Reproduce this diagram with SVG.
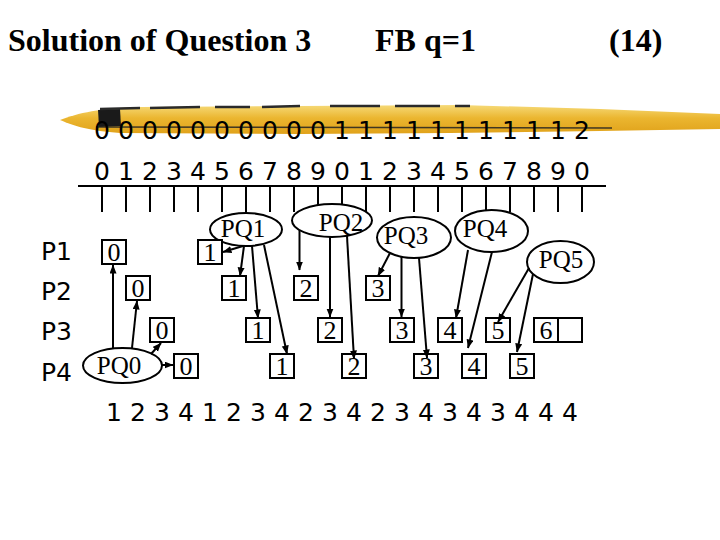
<svg xmlns="http://www.w3.org/2000/svg" width="720" height="540" viewBox="0 0 720 540">
<style>
.title{font-family:"Liberation Serif","Times New Roman",serif;font-weight:bold;font-size:32px;fill:#000}
.mono{font-family:"DejaVu Sans",Verdana,sans-serif;font-size:25px;fill:#000}
.box{fill:#fff;stroke:#000;stroke-width:2}
.bt{font-family:"Liberation Serif","Times New Roman",serif;font-size:26px;fill:#000;text-anchor:middle}
.pq{fill:#fff;stroke:#000;stroke-width:2}
.pt{font-family:"Liberation Serif","Times New Roman",serif;font-size:25px;fill:#000;text-anchor:middle}
.tick{stroke:#000;stroke-width:2}
.conn line{stroke:#000;stroke-width:2;marker-end:url(#ah)}
</style>
<defs>
<marker id="ah" markerUnits="userSpaceOnUse" markerWidth="9" markerHeight="8" refX="8.5" refY="3.5" orient="auto">
<path d="M0,0 L9,3.5 L0,7 z" fill="#000"/>
</marker>
<linearGradient id="brush" x1="0" y1="0" x2="0" y2="1">
<stop offset="0" stop-color="#F6DA78"/>
<stop offset="0.45" stop-color="#EBB630"/>
<stop offset="1" stop-color="#E0A21A"/>
</linearGradient>
</defs>
<rect width="720" height="540" fill="#fff"/>

<!-- title -->
<text class="title" x="8" y="51">Solution of Question 3</text>
<text class="title" x="375" y="51">FB q=1</text>
<text class="title" x="609" y="51">(14)</text>

<!-- decorative brush stroke -->
<g id="brush-stroke">
<path d="M60,120 C78,113 100,108 140,107 L300,106 L460,105 L600,109 L720,114 L720,129 L600,131 L450,133 L300,134 L120,133 C90,131 74,126 60,120 Z" fill="url(#brush)"/>
<path d="M98,110 L120,109 L121,126 L99,127 Z" fill="#1a1a1a"/>
<path d="M100,109 L140,108 M150,108 L200,107 M215,107 L250,107 M262,107 L300,106 M330,106 L380,106 M395,106 L440,106 M455,106 L470,106" stroke="#2a2a2a" stroke-width="2.5" fill="none"/>
<path d="M96,127 L612,128" stroke="#222" stroke-width="1.5" fill="none" opacity="0.85"/>
</g>

<!-- time axis -->
<g id="axis">
<text class="mono" x="94" y="139" textLength="496" lengthAdjust="spacing">0 0 0 0 0 0 0 0 0 0 1 1 1 1 1 1 1 1 1 1 2</text>
<text class="mono" x="94" y="180" textLength="496" lengthAdjust="spacing">0 1 2 3 4 5 6 7 8 9 0 1 2 3 4 5 6 7 8 9 0</text>
<line x1="78" y1="186" x2="606" y2="186" stroke="#000" stroke-width="2"/>
<path class="tick" d="M102,186V212 M126,186V212 M150,186V212 M174,186V212 M198,186V212 M222,186V212 M246,186V212 M270,186V212 M294,186V212 M318,186V212 M342,186V212 M366,186V212 M390,186V212 M414,186V212 M438,186V212 M462,186V212 M486,186V212 M510,186V212 M534,186V212 M558,186V212 M582,186V212"/>
</g>

<!-- process labels -->
<g id="procs">
<text class="mono" x="41" y="260">P1</text>
<text class="mono" x="41" y="300">P2</text>
<text class="mono" x="41" y="340">P3</text>
<text class="mono" x="41" y="381">P4</text>
</g>

<!-- priority queues -->
<g id="PQ0"><ellipse class="pq" cx="122.5" cy="365.5" rx="39.5" ry="17.5"/><text class="pt" x="119" y="374">PQ0</text></g>
<g id="PQ1"><ellipse class="pq" cx="246" cy="229.5" rx="36" ry="16.5"/><text class="pt" x="243" y="237">PQ1</text></g>
<g id="PQ2"><ellipse class="pq" cx="332" cy="220.5" rx="40" ry="16.5"/><text class="pt" x="341" y="231">PQ2</text></g>
<g id="PQ3"><ellipse class="pq" cx="414" cy="237.5" rx="37" ry="20.5"/><text class="pt" x="406" y="244">PQ3</text></g>
<g id="PQ4"><ellipse class="pq" cx="491.5" cy="231" rx="36.5" ry="21"/><text class="pt" x="485" y="237">PQ4</text></g>
<g id="PQ5"><ellipse class="pq" cx="560.5" cy="262" rx="33.5" ry="21"/><text class="pt" x="561" y="268">PQ5</text></g>

<!-- schedule boxes -->
<g id="t0"><rect class="box" x="102" y="240" width="24" height="24"/><text class="bt" x="114" y="261">0</text></g>
<g id="t1"><rect class="box" x="126" y="276" width="24" height="24"/><text class="bt" x="138" y="297">0</text></g>
<g id="t2"><rect class="box" x="150" y="318" width="24" height="24"/><text class="bt" x="162" y="339">0</text></g>
<g id="t3"><rect class="box" x="174" y="354" width="24" height="24"/><text class="bt" x="186" y="375">0</text></g>
<g id="t4"><rect class="box" x="198" y="240" width="24" height="24"/><text class="bt" x="210" y="261">1</text></g>
<g id="t5"><rect class="box" x="222" y="276" width="24" height="24"/><text class="bt" x="234" y="297">1</text></g>
<g id="t6"><rect class="box" x="246" y="318" width="24" height="24"/><text class="bt" x="258" y="339">1</text></g>
<g id="t7"><rect class="box" x="270" y="354" width="24" height="24"/><text class="bt" x="282" y="375">1</text></g>
<g id="t8"><rect class="box" x="294" y="276" width="24" height="24"/><text class="bt" x="306" y="297">2</text></g>
<g id="t9"><rect class="box" x="318" y="318" width="24" height="24"/><text class="bt" x="330" y="339">2</text></g>
<g id="t10"><rect class="box" x="342" y="354" width="24" height="24"/><text class="bt" x="354" y="375">2</text></g>
<g id="t11"><rect class="box" x="366" y="276" width="24" height="24"/><text class="bt" x="378" y="297">3</text></g>
<g id="t12"><rect class="box" x="390" y="318" width="24" height="24"/><text class="bt" x="402" y="339">3</text></g>
<g id="t13"><rect class="box" x="414" y="354" width="24" height="24"/><text class="bt" x="426" y="375">3</text></g>
<g id="t14"><rect class="box" x="438" y="318" width="24" height="24"/><text class="bt" x="450" y="339">4</text></g>
<g id="t15"><rect class="box" x="462" y="354" width="24" height="24"/><text class="bt" x="474" y="375">4</text></g>
<g id="t16"><rect class="box" x="486" y="318" width="24" height="24"/><text class="bt" x="498" y="339">5</text></g>
<g id="t17"><rect class="box" x="510" y="354" width="24" height="24"/><text class="bt" x="522" y="375">5</text></g>
<g id="t18"><rect class="box" x="534" y="318" width="24" height="24"/><text class="bt" x="546" y="339">6</text></g>
<g id="t19"><rect class="box" x="558" y="318" width="24" height="24"/></g>

<!-- connectors -->
<g id="connectors" class="conn">
<line x1="113" y1="348" x2="113" y2="265"/>
<line x1="132" y1="348" x2="137" y2="301"/>
<line x1="151" y1="354" x2="161" y2="343"/>
<line x1="162" y1="365" x2="173" y2="365"/>
<line x1="243" y1="246" x2="223" y2="252"/>
<line x1="244" y1="246" x2="240" y2="276"/>
<line x1="252" y1="246" x2="258" y2="318"/>
<line x1="264" y1="245" x2="287" y2="354"/>
<line x1="299.5" y1="230" x2="299.5" y2="270"/>
<line x1="330" y1="237" x2="330" y2="317"/>
<line x1="347" y1="236" x2="354" y2="359"/>
<line x1="390" y1="253" x2="378" y2="276"/>
<line x1="401.5" y1="257" x2="401.5" y2="317"/>
<line x1="419" y1="258" x2="427" y2="358"/>
<line x1="468" y1="250" x2="456" y2="318"/>
<line x1="492" y1="252" x2="468" y2="348"/>
<line x1="529" y1="268" x2="498" y2="322"/>
<line x1="533" y1="274" x2="517" y2="352"/>
</g>

<!-- run sequence -->
<g id="sequence">
<text class="mono" x="106" y="421" textLength="472" lengthAdjust="spacing">1 2 3 4 1 2 3 4 2 3 4 2 3 4 3 4 3 4 4 4</text>
</g>
</svg>
